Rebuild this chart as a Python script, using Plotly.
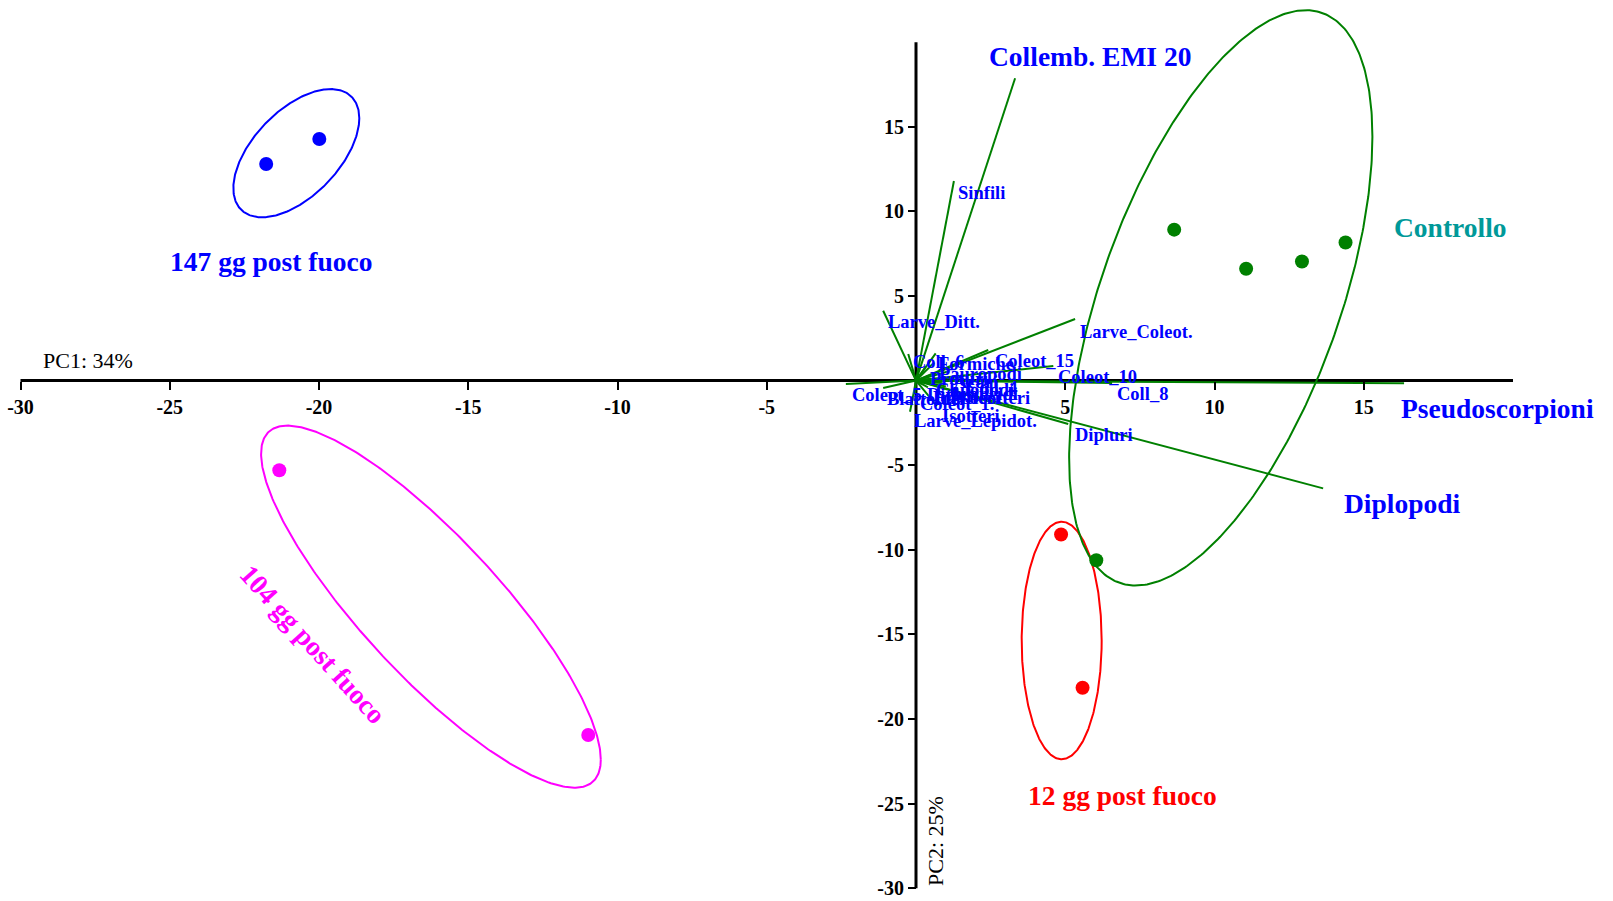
import numpy as np
import plotly.graph_objects as go

# ---- sample scores on the first two principal components ----
pc1_147 = [-21.77, -19.99]
pc2_147 = [12.80, 14.28]
pc1_104 = [-21.33, -10.98]
pc2_104 = [-5.30, -20.95]
pc1_12 = [4.86, 5.58]
pc2_12 = [-9.10, -18.15]
pc1_ctrl = [8.65, 11.06, 12.93, 14.39, 6.04]
pc2_ctrl = [8.92, 6.61, 7.04, 8.16, -10.62]

group_names = ["147 gg post fuoco", "104 gg post fuoco", "12 gg post fuoco", "Controllo"]
group_colors = ["#0000FF", "#FF00FF", "#FF0000", "#008000"]
group_label_colors = ["#0000FF", "#FF00FF", "#FF0000", "#009999"]

# ---- group ellipses: centre, half extent on PC1 / PC2, correlation ----
ell_cx = [-20.76, -16.25, 4.88, 10.21]
ell_cy = [13.44, -13.36, -15.36, 4.89]
ell_sx = [2.11, 5.69, 1.34, 5.08]
ell_sy = [3.79, 10.70, 7.02, 17.0]
ell_rho = [0.545, -0.845, 0.0, 0.56]

# ---- variable loadings (biplot vectors) ----
var_names = ["Collemb. EMI 20", "Sinfili", "Larve_Ditt.", "Larve_Coleot.", "Coleot_15",
             "Coleot_10", "Coll_8", "Pseudoscorpioni", "Diplopodi", "Dipluri",
             "Coll_6", "Formiche", "Coleot_5", "Blattoidei", "Coleot_1.", "Isotteri",
             "Larve_Lepidot.", "Pauropodi", "Proturi", "Acari", "Coll_4", "Chilopodi",
             "Araneidi", "Psocotteri", "Emitteri", "Ditteri"]
load_pc1 = [3.32, 1.27, -1.10, 5.33, 2.42, 4.60, 6.57, 16.35, 13.64, 5.10,
            -0.26, 0.66, -2.35, -1.10, -0.03, 0.70, -0.20, 0.60, 0.30, 1.10,
            1.50, 0.50, 0.90, 1.00, 0.40, 0.20]
load_pc2 = [17.87, 11.80, 4.13, 3.64, 1.81, 0.86, -0.14, -0.16, -6.37, -2.57,
            1.57, 1.61, -0.20, -0.44, -0.74, -1.50, -1.84, 1.05, 0.75, 0.55,
            0.20, 0.10, -0.15, -0.35, -0.40, -0.20]
major_vars = ["Collemb. EMI 20", "Pseudoscorpioni", "Diplopodi"]

# label offsets from the vector tips, in pixels (x right, y down)
label_dx = [-28, 2, 3, 3, 5, 3, 3, -5, 19, 5,
            3, 0, 4, 2, 3, 3, 2, 3, 3, 3,
            3, 3, 3, 3, 3, 3]
label_dy = [-22, 12, 11, 13, 11, 11, 11, 25, 15, 11,
            8, 11, 11, 11, 11, 10, 9, 11, 11, 11,
            11, 11, 11, 11, 11, 11]

# group label placement (data coordinates) and rotation
glabel_x = [-21.61, -20.19, 6.92, 17.9]
glabel_y = [7.03, -15.57, -24.5, 9.06]
glabel_angle = [0, 48, 0, 0]

axis_ticks = [-30, -25, -20, -15, -10, -5, 5, 10, 15]
axis_ticktext = [str(v) for v in axis_ticks]

SERIF = "Liberation Serif, Times New Roman, serif"
W, H = 1613, 901
X0_PX, Y0_PX = 916.0, 380.6      # pixel position of the origin
PX_X, PX_Y = 29.85, 16.92        # pixels per unit on each axis
x_range = [-X0_PX / PX_X, (W - X0_PX) / PX_X]
y_range = [-(H - Y0_PX) / PX_Y, Y0_PX / PX_Y]

fig = go.Figure()

# ellipses
t = np.linspace(0, 2 * np.pi, 400)
for cx, cy, sx, sy, r, col in zip(ell_cx, ell_cy, ell_sx, ell_sy, ell_rho, group_colors):
    ex = cx + sx * np.cos(t)
    ey = cy + sy * (r * np.cos(t) + np.sqrt(1 - r * r) * np.sin(t))
    fig.add_trace(go.Scatter(x=ex, y=ey, mode="lines",
                             line=dict(color=col, width=2), hoverinfo="skip",
                             showlegend=False))

# loading vectors
vx, vy = [], []
for a, b in zip(load_pc1, load_pc2):
    vx += [0, a, None]
    vy += [0, b, None]
fig.add_trace(go.Scatter(x=vx, y=vy, mode="lines",
                         line=dict(color="#008000", width=2),
                         hoverinfo="skip", showlegend=False))

# sample points
for xs, ys, col, name in zip([pc1_147, pc1_104, pc1_12, pc1_ctrl],
                             [pc2_147, pc2_104, pc2_12, pc2_ctrl],
                             group_colors, group_names):
    fig.add_trace(go.Scatter(x=xs, y=ys, mode="markers", name=name,
                             marker=dict(color=col, size=14, line=dict(width=0)),
                             showlegend=False, cliponaxis=False))

# axis lines through the origin
fig.add_shape(type="line", x0=-30, y0=0, x1=20, y1=0,
              line=dict(color="black", width=3), layer="below")
fig.add_shape(type="line", x0=0, y0=-30, x1=0, y1=20,
              line=dict(color="black", width=3), layer="below")

# variable labels
for name, a, b, dx, dy in zip(var_names, load_pc1, load_pc2, label_dx, label_dy):
    big = name in major_vars
    fig.add_annotation(x=a, y=b, text=name, showarrow=False,
                       xanchor="left", yanchor="middle", xshift=dx, yshift=-dy,
                       font=dict(family=SERIF, size=27.5 if big else 18.5,
                                 color="#0000FF", weight="bold"))

# group labels
for name, gx, gy, ang, col in zip(group_names, glabel_x, glabel_y, glabel_angle,
                                  group_label_colors):
    fig.add_annotation(x=gx, y=gy, text=name, showarrow=False, textangle=ang,
                       xanchor="center", yanchor="middle",
                       font=dict(family=SERIF, size=27.5, color=col, weight="bold"))

# axis titles
fig.add_annotation(x=-29.32, y=1.16, text="PC1: 34%", showarrow=False,
                   xanchor="left", yanchor="middle",
                   font=dict(family=SERIF, size=22, color="black"))
fig.add_annotation(x=0.67, y=-27.21, text="PC2: 25%", showarrow=False, textangle=-90,
                   xanchor="center", yanchor="middle",
                   font=dict(family=SERIF, size=22, color="black"))

tickfont = dict(family=SERIF, size=20, color="black", weight="bold")
fig.update_layout(
    width=W, height=H, autosize=False,
    margin=dict(l=0, r=0, t=0, b=0),
    paper_bgcolor="white", plot_bgcolor="white",
    xaxis=dict(range=x_range, anchor="free",
               position=(0 - y_range[0]) / (y_range[1] - y_range[0]),
               tickvals=axis_ticks, ticktext=axis_ticktext, ticks="outside",
               ticklen=8, tickwidth=2, tickcolor="black", tickfont=tickfont,
               showline=False, showgrid=False, zeroline=False, fixedrange=True),
    yaxis=dict(range=y_range, anchor="free",
               position=(0 - x_range[0]) / (x_range[1] - x_range[0]),
               tickvals=axis_ticks, ticktext=axis_ticktext, ticks="outside",
               ticklen=8, tickwidth=2, tickcolor="black", tickfont=tickfont,
               showline=False, showgrid=False, zeroline=False, fixedrange=True),
)

fig.write_html("out.html")
